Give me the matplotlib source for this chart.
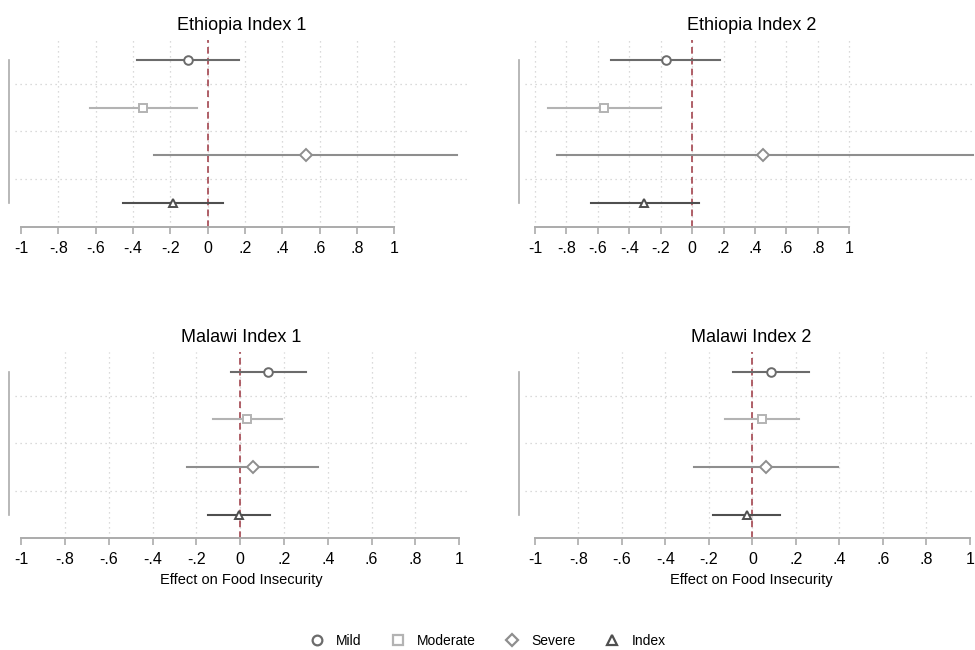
import matplotlib.pyplot as plt
from matplotlib.lines import Line2D

plt.rcParams['font.family'] = ['Liberation Sans', 'DejaVu Sans']

titles = ['Ethiopia Index 1', 'Ethiopia Index 2', 'Malawi Index 1', 'Malawi Index 2']
outcomes = ['Mild', 'Moderate', 'Severe', 'Index']

# coefficient and 95% CI per outcome (Mild, Moderate, Severe, Index)
eth1_b = [-0.107, -0.345, 0.525, -0.186]
eth1_lo = [-0.380, -0.630, -0.286, -0.455]
eth1_hi = [0.168, -0.059, 1.334, 0.084]

eth2_b = [-0.166, -0.558, 0.454, -0.304]
eth2_lo = [-0.514, -0.915, -0.862, -0.645]
eth2_hi = [0.178, -0.200, 1.79, 0.042]

mal1_b = [0.128, 0.033, 0.059, -0.005]
mal1_lo = [-0.044, -0.126, -0.244, -0.145]
mal1_hi = [0.299, 0.192, 0.357, 0.137]

mal2_b = [0.085, 0.045, 0.062, -0.027]
mal2_lo = [-0.091, -0.125, -0.269, -0.180]
mal2_hi = [0.260, 0.215, 0.392, 0.126]

xticks = [-1, -0.8, -0.6, -0.4, -0.2, 0, 0.2, 0.4, 0.6, 0.8, 1]
xlabels = ['-1', '-.8', '-.6', '-.4', '-.2', '0', '.2', '.4', '.6', '.8', '1']

colors = ['#6b6b6b', '#b3b3b3', '#8e8e8e', '#4f4f4f']
markers = ['o', 's', 'D', '^']
msizes = [6.2, 6.2, 5.8, 6.2]

panels = [
    (eth1_b, eth1_lo, eth1_hi, (-1.032, 1.395)),
    (eth2_b, eth2_lo, eth2_hi, (-1.064, 1.82)),
    (mal1_b, mal1_lo, mal1_hi, (-1.028, 1.04)),
    (mal2_b, mal2_lo, mal2_hi, (-1.046, 1.037)),
]

W, H = 975, 650
fig = plt.figure(figsize=(9.75, 6.5), dpi=100)
pos = [(15, 40), (525, 40), (15, 351.7), (525, 351.7)]

for i, (b, lo, hi, xl) in enumerate(panels):
    x0, top = pos[i]
    ax = fig.add_axes([x0 / W, 1 - (top + 186.7) / H, 453 / W, 186.7 / H])
    ax.set_xlim(xl)
    ax.set_ylim(4.5, 0.58)

    # grid: vertical at ticks (skip those hugging the edge), horizontal between rows
    for t in xticks:
        if t - xl[0] > 0.05 and xl[1] - t > 0.05:
            ax.axvline(t, color='#cfcfcf', lw=0.9, ls=(0, (1, 3)), zorder=0)
    for yy in [1.5, 2.5, 3.5]:
        ax.axhline(yy, color='#cfcfcf', lw=0.9, ls=(0, (1, 3)), zorder=0)

    ax.axvline(0, color='#a3454f', lw=1.2, ls=(0, (4, 2.5)), zorder=1)

    for k in range(4):
        ax.plot([lo[k], hi[k]], [k + 1, k + 1], color=colors[k], lw=1.5, zorder=2)
        ax.plot(b[k], k + 1, marker=markers[k], ms=msizes[k], mfc='white',
                mec=colors[k], mew=1.4, ls='none', zorder=3)

    for s in ['top', 'right']:
        ax.spines[s].set_visible(False)
    ax.spines['left'].set_bounds(1, 4)
    ax.spines['left'].set_position(('outward', 4))
    ax.spines['left'].set_color('#ababab')
    ax.spines['left'].set_linewidth(1.2)
    ax.spines['bottom'].set_bounds(-1, 1)
    ax.spines['bottom'].set_color('#ababab')
    ax.spines['bottom'].set_linewidth(1.4)
    ax.set_yticks([])
    ax.set_xticks(xticks)
    ax.set_xticklabels(xlabels, fontsize=11.5)
    ax.tick_params(axis='x', color='#ababab', length=5, width=1.2, pad=5)
    ax.set_title(titles[i], fontsize=13, pad=7)
    if i >= 2:
        ax.set_xlabel('Effect on Food Insecurity', fontsize=10.5, labelpad=4)

handles = [Line2D([], [], marker=markers[k], ms=msizes[k] + 0.8, mfc='white', mec=colors[k],
                  mew=1.6, ls='none') for k in range(4)]
fig.legend(handles, outcomes, loc='center', bbox_to_anchor=(0.5, 1 - 641 / H), ncol=4,
           frameon=False, fontsize=10, handlelength=1.0, handletextpad=0.9,
           columnspacing=2.1)

fig.savefig('out.png', dpi=100)
